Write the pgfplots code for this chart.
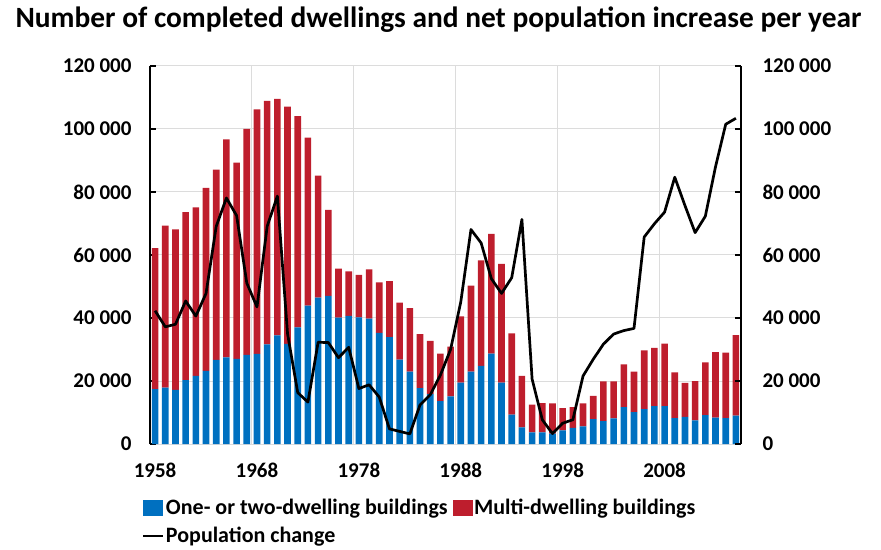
\documentclass[border=0pt]{standalone}
\usepackage{pgfplots}
\pgfplotsset{compat=1.18}
\usepackage{pgfplotstable}
\usepackage{fontspec}
\setmainfont{Carlito}
\definecolor{bblue}{RGB}{0,112,192}
\definecolor{bred}{RGB}{190,30,45}
\definecolor{gridgray}{RGB}{220,220,220}

\pgfplotstableread{
year one multi pop
1958 17400 44800 42300
1959 17900 51400 37200
1960 17200 50900 38000
1961 20300 53300 45400
1962 21600 53500 40600
1963 23200 58100 47800
1964 26700 60400 69100
1965 27500 69200 78100
1966 27000 62300 72500
1967 28300 71700 51100
1968 28600 77600 43500
1969 31600 77300 69100
1970 34500 75100 78700
1971 31800 75300 35000
1972 37000 67100 16300
1973 43900 53400 13300
1974 46500 38700 32300
1975 47000 27300 32200
1976 40100 15600 27400
1977 40700 14100 30700
1978 40200 13500 17600
1979 39800 15600 18800
1980 35300 16000 14900
1981 33900 17800 4800
1982 26800 18100 4000
1983 23000 20100 3200
1984 17700 17200 12400
1985 15800 16900 15600
1986 13600 15100 21900
1987 15100 15800 30000
1988 19500 21000 45100
1989 23000 27300 68100
1990 24800 33500 63800
1991 28700 38000 52500
1992 19500 37700 47800
1993 9300 25800 52800
1994 5300 16300 71300
1995 3700 8800 20600
1996 3700 9300 7700
1997 3300 9600 3300
1998 4300 7100 6600
1999 5100 6600 7700
2000 5600 7300 21600
2001 7900 7400 26900
2002 7300 12600 31700
2003 8100 11800 34900
2004 11700 13600 36000
2005 10100 12900 36700
2006 11100 18600 65700
2007 12000 18500 69900
2008 12000 19900 73600
2009 8200 14500 84700
2010 8600 10800 75700
2011 7500 12500 67100
2012 9200 16700 72300
2013 8400 20800 88000
2014 8200 20800 101500
2015 9000 25600 103400
}\data

\begin{document}
\begin{tikzpicture}
\pgfplotsset{
  common/.style={
    scale only axis, width=591pt, height=378pt,
    xmin=1957.5, xmax=2015.5, ymin=0, ymax=120000,
    scaled y ticks=false, scaled x ticks=false,
    ytick={0,20000,40000,60000,80000,100000,120000},
    yticklabels={0,20 000,40 000,60 000,80 000,100 000,120 000},
    tick label style={font=\bfseries\fontsize{21}{25}\selectfont},
    tick align=inside, major tick length=6pt,
    y axis line style={line width=2.2pt, black},
    ytick style={line width=1.4pt, black},
  }}
\begin{axis}[common,
  axis y line*=left, axis x line*=bottom,
  x axis line style={draw=none},
  xtick={1958,1968,1978,1988,1998,2008},
  xticklabels={1958,1968,1978,1988,1998,2008},
  xtick style={draw=none},
  xticklabel style={yshift=-15pt},
  yticklabel style={xshift=-15pt},
  ymajorgrids, grid style={gridgray, line width=1pt},
  extra x ticks={1967.5,1977.5,1987.5,1997.5,2007.5},
  extra x tick labels={},
  extra x tick style={grid=major, major tick length=0pt},
  ybar stacked, bar width=0.65,
]
\addplot[fill=bblue, draw=none] table[x=year,y=one]{\data};
\addplot[fill=bred, draw=none] table[x=year,y=multi]{\data};
\end{axis}
\begin{axis}[common,
  axis y line*=right, axis x line=none,
  yticklabel style={xshift=18pt},
  legend columns=2, legend cell align=left,
  legend style={at={(0,0)}, anchor=north west, xshift=-8pt, yshift=-53pt,
    draw=none, fill=none, inner sep=0pt, row sep=7pt,
    font=\bfseries\fontsize{22}{26}\selectfont,
    nodes={inner sep=2pt},
    /tikz/every even column/.append style={column sep=3pt}},
]
\addlegendimage{legend image code/.code={\fill[bblue] (0pt,-7.5pt) rectangle (19pt,7.5pt);}}
\addlegendentry{One- or two-dwelling buildings}
\addlegendimage{legend image code/.code={\fill[bred] (0pt,-7.5pt) rectangle (19pt,7.5pt);}}
\addlegendentry{Multi-dwelling buildings}
\addplot[black, line width=2.7pt, line join=round,
  legend image code/.code={\draw[black, line width=1.8pt] (0pt,0pt) -- (20pt,0pt);}]
  table[x=year,y=pop]{\data};
\addlegendentry{Population change}
\end{axis}
\node[font=\bfseries\fontsize{29.4}{34}\selectfont] at (288.5pt,424pt) {Number of completed dwellings and net population increase per year};
\path[use as bounding box] (-150pt,-105pt) rectangle (731pt,444pt);
\end{tikzpicture}
\end{document}
